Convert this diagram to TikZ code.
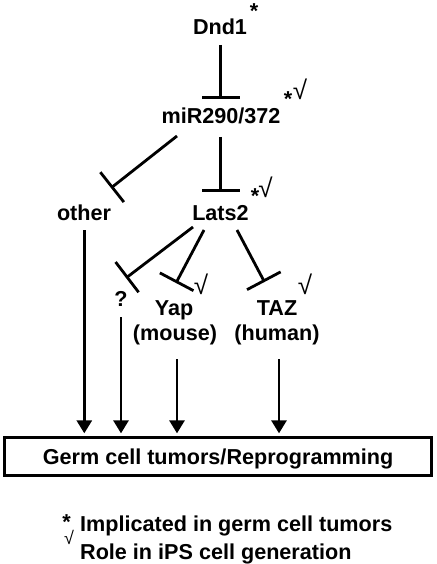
\documentclass[tikz,border=0pt]{standalone}
\usepackage{fontspec}
\setmainfont{Liberation Sans}
\usetikzlibrary{arrows.meta}
\begin{document}
\begin{tikzpicture}[x=1pt,y=-1pt,
  lbl/.style={font=\fontsize{21.6}{24}\selectfont\bfseries, inner sep=0pt, anchor=base},
  ast/.style={inner sep=0pt, anchor=base, font=\fontsize{21.6}{24}\selectfont\bfseries},
  chk/.style={inner sep=0pt, anchor=center, font=\fontsize{26}{30}\selectfont},
  inh/.style={line width=2.8pt, -{Bar[width=38pt]}},
  act/.style={line width=2.8pt, -{Triangle[width=15pt,length=13pt]}}]
\useasboundingbox (0,0) rectangle (436,564);
% nodes
\node[lbl] (dnd) at (220,34.5) {Dnd1};
\node[lbl] (mir) at (221,124) {miR290/372};
\node[lbl] (other) at (84,220) {other};
\node[lbl] (lats) at (220.5,220) {Lats2};
\node[lbl] (q) at (121,306.5) {?};
\node[lbl] (yap) at (174,315) {Yap};
\node[lbl] (taz) at (277,315.5) {TAZ};
\node[lbl] (mouse) at (175,340) {(mouse)};
\node[lbl] (human) at (277,340) {(human)};
\node[draw, line width=2.8pt, minimum width=426.8pt, minimum height=37.5pt,
  font=\fontsize{21.6}{24}\selectfont\bfseries, text height=15.5pt, text depth=0pt,
  inner sep=0pt] (box) at (218.1,456.5) {Germ cell tumors/Reprogramming};
% marks
\node[ast] (a1) at (254,18.5) {*};
\node[ast] (a2) at (288,106.5) {*};
\node[chk] (c2) at (300,89.5) {√};
\node[ast] (a3) at (255,203.5) {*};
\node[chk] (c3) at (265.5,187) {√};
\node[chk] (c4) at (201,284.5) {√};
\node[chk] (c5) at (305,284) {√};
% legend
\node[ast, text height=4pt] (la) at (66.5,529.5) {*};
\node[lbl, anchor=base west] (l1) at (80,531.7) {Implicated in germ cell tumors};
\node[chk, font=\fontsize{18}{20}\selectfont] (lc) at (69,537.5) {√};
\node[lbl, anchor=base west] (l2) at (80,559) {Role in iPS cell generation};
% connector ends
\coordinate (d1s) at (220.7,45);
\coordinate (m1n) at (220.7,99);
\coordinate (m1s) at (220.7,137);
\coordinate (l2n) at (220.7,191.5);
\coordinate (mos) at (177,136);
\coordinate (oe) at (111,188);
\coordinate (lq) at (193,227);
\coordinate (qe) at (126,278);
\coordinate (ly) at (204,230);
\coordinate (ye) at (176,283);
\coordinate (lt) at (237,230);
\coordinate (te) at (264.5,282);
\coordinate (os) at (84.3,230);
\coordinate (qs) at (121,317);
\coordinate (ys) at (177,359);
\coordinate (ts) at (279,359);
% inhibitions
\draw[inh] (d1s) -- (m1n);
\draw[inh] (m1s) -- (l2n);
\draw[inh] (mos) -- (oe);
\draw[inh] (lq) -- (qe);
\draw[inh] (ly) -- (ye);
\draw[inh] (lt) -- (te);
% activations
\draw[act] (os) -- ([yshift=3pt]os |- box.north);
\draw[act] (qs) -- ([yshift=3pt]qs |- box.north);
\draw[act] (ys) -- ([yshift=3pt]ys |- box.north);
\draw[act] (ts) -- ([yshift=3pt]ts |- box.north);
\end{tikzpicture}
\end{document}
